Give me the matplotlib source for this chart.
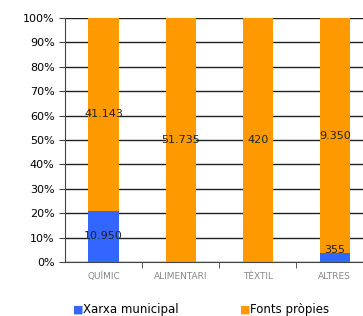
import matplotlib.pyplot as plt
import numpy as np

categories = ['QUÍMIC', 'ALIMENTARI', 'TÈXTIL', 'ALTRES']
xarxa = [10950, 0, 0, 355]
fonts = [41143, 51735, 420, 9350]
xarxa_labels = ['10.950', '', '', '355']
fonts_labels = ['41.143', '51.735', '420', '9.350']

blue = '#3366FF'
orange = '#FF9900'

xarxa = np.array(xarxa, dtype=float)
fonts = np.array(fonts, dtype=float)
total = xarxa + fonts
p_x = xarxa / total * 100
p_f = fonts / total * 100

fig = plt.figure(figsize=(3.63, 3.16), dpi=100)
ax = fig.add_axes([0.179, 0.171, 0.849, 0.772])
x = np.arange(len(categories))

ax.bar(x, p_x, width=0.39, color=blue, zorder=2)
ax.bar(x, p_f, width=0.39, bottom=p_x, color=orange, zorder=2)

for i in range(len(categories)):
    if xarxa_labels[i]:
        ax.text(x[i], max(p_x[i] / 2, 5), xarxa_labels[i], ha='center', va='center',
                fontsize=8, color='#222222', zorder=3)
    ax.text(x[i], p_x[i] + p_f[i] / 2, fonts_labels[i], ha='center', va='center',
            fontsize=8, color='#222222', zorder=3)

ax.set_xlim(-0.5, 3.5)
ax.set_ylim(0, 100)
ax.set_yticks(range(0, 101, 10))
ax.set_yticklabels([f'{v}%' for v in range(0, 101, 10)], fontsize=8)
ax.yaxis.grid(True, color='#222222', linewidth=1)
ax.set_axisbelow(True)

ax.set_xticks(x)
ax.set_xticklabels(categories, fontsize=6.5, color='#888888')
ax.tick_params(axis='x', length=0, pad=7)
ax.set_xticks([0.5, 1.5, 2.5], minor=True)
ax.tick_params(axis='x', which='minor', length=4, direction='out', color='#444444')
ax.tick_params(axis='y', length=4, color='#444444')

for s in ['top', 'right']:
    ax.spines[s].set_visible(False)
ax.spines['left'].set_color('#444444')
ax.spines['bottom'].set_color('#444444')

fig.text(0.2, 0.02, '■', color=blue, fontsize=8, va='center')
fig.text(0.228, 0.02, 'Xarxa municipal', fontsize=8.5, va='center')
fig.text(0.66, 0.02, '■', color=orange, fontsize=8, va='center')
fig.text(0.688, 0.02, 'Fonts pròpies', fontsize=8.5, va='center')

fig.savefig('out.png', dpi=100)
